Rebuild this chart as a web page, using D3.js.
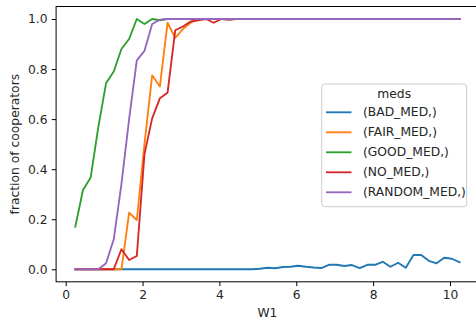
<!DOCTYPE html>
<html>
<head>
<meta charset="utf-8">
<script src="https://cdn.jsdelivr.net/npm/d3@7"></script>
<style>
  html, body { margin: 0; padding: 0; background: #fff; }
  svg { display: block; font-family: "DejaVu Sans", sans-serif; }
</style>
</head>
<body>
<svg id="chart" width="476" height="323"></svg>
<script>
// W1 sweep: 0.25 .. 10.25 in steps of 0.2
const w1 = d3.range(51).map(i => +(0.25 + 0.2 * i).toFixed(2));

const seriesNames = ["(BAD_MED,)", "(FAIR_MED,)", "(GOOD_MED,)", "(NO_MED,)", "(RANDOM_MED,)"];
const seriesColors = ["#1f77b4", "#ff7f0e", "#2ca02c", "#d62728", "#9467bd"];

const badMed = [
  0, 0, 0, 0, 0, 0, 0, 0, 0, 0,
  0, 0, 0, 0, 0, 0, 0, 0, 0, 0,
  0, 0, 0, 0, 0.002, 0.006, 0.004, 0.009, 0.01, 0.014,
  0.01, 0.007, 0.005, 0.018, 0.018, 0.013, 0.017, 0.005, 0.018, 0.018,
  0.03, 0.01, 0.026, 0.006, 0.057, 0.057, 0.034, 0.024, 0.046, 0.042,
  0.028
];
const fairMed = [
  0, 0, 0, 0, 0, 0, 0, 0.226, 0.197, 0.5,
  0.775, 0.73, 0.985, 0.925, 0.96, 0.985, 1, 1, 1, 1,
  1, 1, 1, 1, 1, 1, 1, 1, 1, 1,
  1, 1, 1, 1, 1, 1, 1, 1, 1, 1,
  1, 1, 1, 1, 1, 1, 1, 1, 1, 1,
  1
];
const goodMed = [
  0.17, 0.317, 0.367, 0.57, 0.743, 0.79, 0.88, 0.92, 1, 0.98,
  1, 0.995, 1, 1, 1, 1, 1, 1, 1, 1,
  1, 1, 1, 1, 1, 1, 1, 1, 1, 1,
  1, 1, 1, 1, 1, 1, 1, 1, 1, 1,
  1, 1, 1, 1, 1, 1, 1, 1, 1, 1,
  1
];
const noMed = [
  0, 0, 0, 0, 0, 0, 0.08, 0.037, 0.053, 0.46,
  0.603, 0.683, 0.705, 0.955, 0.97, 0.99, 0.995, 1, 0.985, 1,
  0.997, 1, 1, 1, 1, 1, 1, 1, 1, 1,
  1, 1, 1, 1, 1, 1, 1, 1, 1, 1,
  1, 1, 1, 1, 1, 1, 1, 1, 1, 1,
  1
];
const randomMed = [
  0, 0, 0, 0, 0.024, 0.12, 0.34, 0.6, 0.835, 0.873,
  0.98, 0.997, 1, 1, 1, 1, 1, 1, 1, 1,
  1, 1, 1, 1, 1, 1, 1, 1, 1, 1,
  1, 1, 1, 1, 1, 1, 1, 1, 1, 1,
  1, 1, 1, 1, 1, 1, 1, 1, 1, 1,
  1
];
const seriesValues = [badMed, fairMed, goodMed, noMed, randomMed];

const xTicks = [0, 2, 4, 6, 8, 10];
const yTicks = [0, 0.2, 0.4, 0.6, 0.8, 1.0];

const svg = d3.select("#chart");
const plot = { left: 56.1, right: 478.8, top: 6.5, bottom: 281.8 };
const fontSize = 12.3;

const x = d3.scaleLinear().domain([-0.25, 10.75]).range([plot.left, plot.right]);
const y = d3.scaleLinear().domain([-0.05, 1.05]).range([plot.bottom, plot.top]);

// series lines
const line = d3.line().x((d, i) => x(w1[i])).y(d => y(d));
const lines = svg.append("g");
seriesValues.forEach((vals, k) => {
  lines.append("path")
    .datum(vals)
    .attr("d", line)
    .attr("fill", "none")
    .attr("stroke", seriesColors[k])
    .attr("stroke-width", 1.85)
    .attr("stroke-linejoin", "round")
    .attr("stroke-linecap", "square");
});

// frame
svg.append("rect")
  .attr("x", plot.left).attr("y", plot.top)
  .attr("width", plot.right - plot.left).attr("height", plot.bottom - plot.top)
  .attr("fill", "none").attr("stroke", "#000").attr("stroke-width", 1);

// axes
const xAxis = d3.axisBottom(x).tickValues(xTicks).tickFormat(d3.format("d"))
  .tickSize(4.3).tickPadding(4.3);
const gx = svg.append("g").attr("transform", `translate(0,${plot.bottom})`).call(xAxis);
const yAxis = d3.axisLeft(y).tickValues(yTicks).tickFormat(d3.format(".1f"))
  .tickSize(4.3).tickPadding(4.3);
const gy = svg.append("g").attr("transform", `translate(${plot.left},0)`).call(yAxis);
[gx, gy].forEach(g => {
  g.select(".domain").remove();
  g.selectAll("text").attr("font-size", fontSize).attr("fill", "#262626")
    .attr("font-family", "DejaVu Sans");
  g.selectAll("line").attr("stroke", "#000").attr("stroke-width", 1);
});

// axis titles
svg.append("text")
  .attr("x", (plot.left + plot.right) / 2).attr("y", 313.3)
  .attr("text-anchor", "middle").attr("dominant-baseline", "central")
  .attr("font-size", fontSize).attr("fill", "#262626").text("W1");
svg.append("text")
  .attr("transform", `translate(15,${(plot.top + plot.bottom) / 2}) rotate(-90)`)
  .attr("text-anchor", "middle").attr("dominant-baseline", "central")
  .attr("font-size", fontSize).attr("fill", "#262626").text("fraction of cooperators");

// legend
const lg = svg.append("g");
lg.append("rect")
  .attr("x", 321.7).attr("y", 84).attr("width", 145).attr("height", 122.7)
  .attr("rx", 3).attr("fill", "#fff").attr("fill-opacity", 0.8)
  .attr("stroke", "#cccccc").attr("stroke-width", 1);
lg.append("text")
  .attr("x", 394.2).attr("y", 94)
  .attr("text-anchor", "middle").attr("dominant-baseline", "central")
  .attr("font-size", fontSize).attr("fill", "#262626").text("meds");
const rowY = d3.scaleLinear().domain([0, 4]).range([112.3, 192.3]);
seriesNames.forEach((name, k) => {
  const cy = rowY(k);
  lg.append("line")
    .attr("x1", 326).attr("x2", 351.5).attr("y1", cy).attr("y2", cy)
    .attr("stroke", seriesColors[k]).attr("stroke-width", 1.85);
  lg.append("text")
    .attr("x", 363).attr("y", cy)
    .attr("dominant-baseline", "central")
    .attr("font-size", fontSize).attr("fill", "#262626").text(name);
});
</script>
</body>
</html>
